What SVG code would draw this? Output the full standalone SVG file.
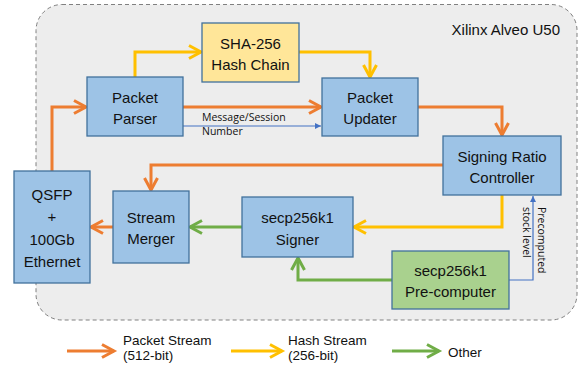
<svg xmlns="http://www.w3.org/2000/svg" width="580" height="371" viewBox="0 0 580 371">
<style>
.box{stroke:#41719C;stroke-width:1.3}
.blue{fill:#9DC3E6}
.yel{fill:#FFE699}
.grn{fill:#A9D18E}
.lbl{font-family:"Liberation Sans",Arial,sans-serif;font-size:15px;fill:#111;text-anchor:middle}
.small{font-family:"Open Sans","Noto Sans",sans-serif;font-size:10.5px;fill:#111}
.leg{font-family:"Liberation Sans",Arial,sans-serif;font-size:13.5px;fill:#111}
.c{fill:none;stroke-width:3;stroke-linejoin:miter}
.o{stroke:#ED7D31;marker-end:url(#ao)}
.y{stroke:#FFC000;marker-end:url(#ay)}
.g{stroke:#70AD47;marker-end:url(#ag)}
.b{fill:none;stroke:#4472C4;stroke-width:1.2;marker-end:url(#ab)}
</style>
<defs>
<marker id="ao" markerUnits="userSpaceOnUse" markerWidth="16" markerHeight="16" refX="13" refY="7" orient="auto" overflow="visible"><path d="M1,0.5 L13,7 L1,13.5" fill="none" stroke="#ED7D31" stroke-width="3"/></marker>
<marker id="ay" markerUnits="userSpaceOnUse" markerWidth="16" markerHeight="16" refX="13" refY="7" orient="auto" overflow="visible"><path d="M1,0.5 L13,7 L1,13.5" fill="none" stroke="#FFC000" stroke-width="3"/></marker>
<marker id="ag" markerUnits="userSpaceOnUse" markerWidth="16" markerHeight="16" refX="13" refY="7" orient="auto" overflow="visible"><path d="M1,0.5 L13,7 L1,13.5" fill="none" stroke="#70AD47" stroke-width="3"/></marker>
<marker id="ab" markerUnits="userSpaceOnUse" markerWidth="8" markerHeight="8" refX="6" refY="3" orient="auto" overflow="visible"><path d="M0,0 L6,3 L0,6 Z" fill="#4472C4"/></marker>
</defs>

<g id="container">
<rect x="36" y="4.5" width="541" height="315.5" rx="26" fill="#EDEDED" stroke="#808080" stroke-width="1" stroke-dasharray="4,3"/>
<text x="560" y="35" class="lbl" style="text-anchor:end">Xilinx Alveo U50</text>
</g>

<g id="connectors">
<path class="c o" d="M52,171 V107 H86"/>
<path class="c y" d="M135,77 V52 H201"/>
<path class="c y" d="M299,52 H370 V77"/>
<path class="c o" d="M183,107 H321"/>
<path class="b" d="M183,126 H321"/>
<text class="small" x="202" y="121">Message/Session</text>
<text class="small" x="202" y="135">Number</text>
<path class="c o" d="M418,107 H502 V135"/>
<path class="c o" d="M443,165 H151 V190"/>
<path class="c y" d="M502,195 V227 H354"/>
<path class="c g" d="M242,227 H190"/>
<path class="c o" d="M113,227 H91"/>
<path class="c g" d="M392,280 H298 V258"/>
<path class="b" d="M509,280 H533 V196"/>
<text class="small" transform="translate(537.5,207) rotate(90)">Precomputed</text>
<text class="small" transform="translate(522.5,207) rotate(90)">stock level</text>
</g>

<g id="qsfp">
<rect class="box blue" x="14" y="171" width="76" height="112"/>
<text class="lbl" x="52" y="200">QSFP</text>
<text class="lbl" x="52" y="222">+</text>
<text class="lbl" x="52" y="245">100Gb</text>
<text class="lbl" x="52" y="267">Ethernet</text>
</g>
<g id="packet-parser">
<rect class="box blue" x="87" y="77" width="96" height="59"/>
<text class="lbl" x="135" y="103">Packet</text>
<text class="lbl" x="135" y="124">Parser</text>
</g>
<g id="sha256">
<rect class="box yel" x="202" y="23" width="97" height="59"/>
<text class="lbl" x="250.5" y="48.5">SHA-256</text>
<text class="lbl" x="250.5" y="70">Hash Chain</text>
</g>
<g id="packet-updater">
<rect class="box blue" x="322" y="78" width="96" height="58"/>
<text class="lbl" x="370" y="103">Packet</text>
<text class="lbl" x="370" y="124">Updater</text>
</g>
<g id="signing-ratio-controller">
<rect class="box blue" x="443" y="136" width="118" height="59"/>
<text class="lbl" x="502" y="161.5">Signing Ratio</text>
<text class="lbl" x="502" y="183">Controller</text>
</g>
<g id="stream-merger">
<rect class="box blue" x="113" y="191" width="76" height="72"/>
<text class="lbl" x="151" y="222.5">Stream</text>
<text class="lbl" x="151" y="244">Merger</text>
</g>
<g id="signer">
<rect class="box blue" x="242" y="197" width="111" height="60"/>
<text class="lbl" x="297.5" y="223">secp256k1</text>
<text class="lbl" x="297.5" y="244.5">Signer</text>
</g>
<g id="precomputer">
<rect class="box grn" x="392" y="251" width="117" height="58"/>
<text class="lbl" x="450.5" y="275.5">secp256k1</text>
<text class="lbl" x="450.5" y="297">Pre-computer</text>
</g>

<g id="legend">
<path class="c o" d="M67,351 H114"/>
<text class="leg" x="123" y="345">Packet Stream</text>
<text class="leg" x="123" y="360">(512-bit)</text>
<path class="c y" d="M231,351 H282"/>
<text class="leg" x="288" y="345">Hash Stream</text>
<text class="leg" x="288" y="360">(256-bit)</text>
<path class="c g" d="M392,351 H439"/>
<text class="leg" x="448" y="357">Other</text>
</g>
</svg>
